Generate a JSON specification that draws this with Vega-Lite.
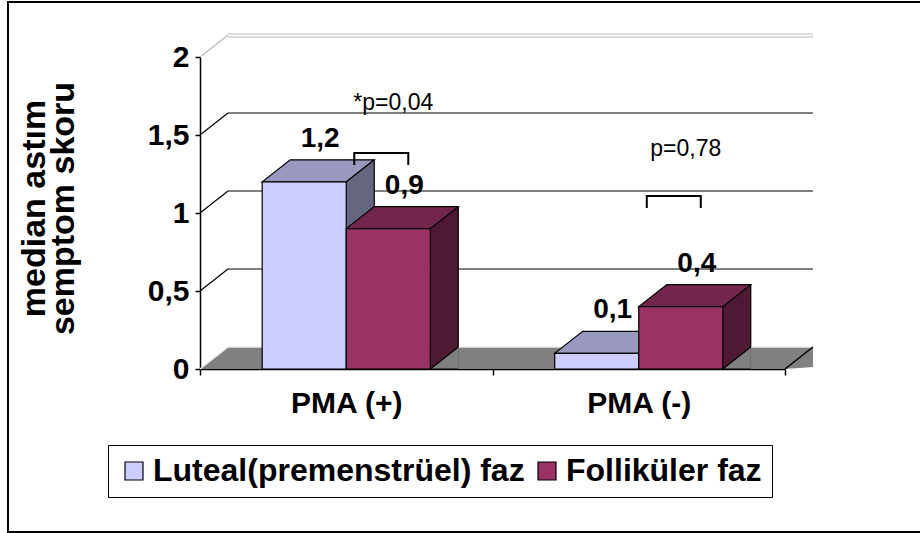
{
  "$schema": "https://vega.github.io/schema/vega-lite/v6.json",
  "width": 916,
  "height": 530,
  "autosize": {"type": "none"},
  "padding": {"left": 8, "top": 2, "right": -4, "bottom": 1},
  "background": "white",
  "config": {
    "view": {"stroke": "black", "strokeWidth": 2},
    "font": "Liberation Sans",
    "axisX": {
      "orient": "bottom", "offset": -163, "tickBand": "extent", "labelAngle": 0,
      "domainColor": "black", "domainWidth": 1.5, "tickColor": "black", "tickWidth": 1.5, "tickSize": 6,
      "labelPadding": 13, "labelFont": "Liberation Sans", "labelFontSize": 30, "labelFontWeight": "bold",
      "labelColor": "black", "grid": false, "zindex": 1
    },
    "axisY": {
      "offset": -192, "grid": false,
      "domainColor": "black", "domainWidth": 1.5, "tickColor": "black", "tickWidth": 1.5, "tickSize": 5,
      "labelPadding": 6, "labelFont": "Liberation Sans", "labelFontSize": 30, "labelFontWeight": "bold",
      "labelColor": "black", "titleFont": "Liberation Sans", "titleFontSize": 34,
      "titleFontWeight": "bold", "titleColor": "black", "titleX": -166, "titleY": 206, "titleAngle": -90,
      "titleAlign": "center", "titleBaseline": "middle", "titleLineHeight": 29, "zindex": 1
    }
  },
  "datasets": {
    "bars": [
      {"group": "PMA (+)", "faz": "Luteal(premenstrüel) faz", "value": 1.2, "label": "1,2"},
      {"group": "PMA (+)", "faz": "Folliküler faz", "value": 0.9, "label": "0,9"},
      {"group": "PMA (-)", "faz": "Luteal(premenstrüel) faz", "value": 0.1, "label": "0,1"},
      {"group": "PMA (-)", "faz": "Folliküler faz", "value": 0.4, "label": "0,4"}
    ],
    "ticks": [{"v": 0.5}, {"v": 1}, {"v": 1.5}, {"v": 2}],
    "notes": [
      {"group": "PMA (+)", "faz": "Folliküler faz", "y": 1.66, "text": "*p=0,04", "bracket": 1.385},
      {"group": "PMA (-)", "faz": "Folliküler faz", "y": 1.365, "text": "p=0,78", "bracket": 1.109}
    ]
  },
  "encoding": {
    "x": {
      "field": "group", "type": "nominal", "title": null,
      "scale": {"domain": ["PMA (+)", "PMA (-)"], "range": [192, 777], "paddingInner": 0, "paddingOuter": 0},
      "axis": {"title": null}
    },
    "y": {
      "field": "value", "type": "quantitative", "stack": null,
      "scale": {"domain": [0, 2], "range": [367, 55], "nice": false, "zero": true},
      "axis": {
        "values": [0, 0.5, 1, 1.5, 2],
        "labelExpr": "replace(format(datum.value, '~g'), '.', ',')",
        "title": ["median astım", "semptom skoru"]
      }
    }
  },
  "layer": [
    {
      "data": {"name": "ticks"},
      "transform": [{"filter": "datum.v < 2"}],
      "mark": {"type": "rule", "color": "black", "strokeWidth": 1, "xOffset": -118.25, "x2Offset": 174.25, "yOffset": -22},
      "encoding": {
        "x": {"datum": "PMA (+)", "type": "nominal", "title": null},
        "x2": {"datum": "PMA (-)"},
        "y": {"field": "v", "type": "quantitative", "title": null}
      }
    },
    {
      "data": {"name": "ticks"},
      "transform": [{"filter": "datum.v == 2"}],
      "mark": {"type": "rule", "color": "#B8B8B8", "strokeWidth": 1, "xOffset": -118.25, "x2Offset": 174.25, "yOffset": -23},
      "encoding": {
        "x": {"datum": "PMA (+)", "type": "nominal", "title": null},
        "x2": {"datum": "PMA (-)"},
        "y": {"field": "v", "type": "quantitative", "title": null}
      }
    },
    {
      "data": {"name": "ticks"},
      "transform": [{"filter": "datum.v == 2"}],
      "mark": {"type": "rule", "color": "#B8B8B8", "strokeWidth": 1, "xOffset": -118.25, "x2Offset": 174.25, "yOffset": -20},
      "encoding": {
        "x": {"datum": "PMA (+)", "type": "nominal", "title": null},
        "x2": {"datum": "PMA (-)"},
        "y": {"field": "v", "type": "quantitative", "title": null}
      }
    },
    {
      "data": {"name": "ticks"},
      "mark": {"type": "rule", "strokeWidth": 1.2, "xOffset": -146.25, "x2Offset": -118.25, "y2Offset": -22},
      "encoding": {
        "x": {"datum": "PMA (+)", "type": "nominal", "title": null},
        "x2": {"datum": "PMA (+)"},
        "y": {"field": "v", "type": "quantitative", "title": null},
        "y2": {"field": "v"},
        "color": {"condition": {"test": "datum.v == 2", "value": "#B8B8B8"}, "value": "black"}
      }
    },
    {
      "data": {"name": "bars"},
      "transform": [{"filter": "datum.group == 'PMA (+)' && datum.faz != 'Folliküler faz'"}],
      "mark": {"type": "point", "shape": "M-146.25,0L-118.25,-22L466.75,-22L466.75,-2L438.75,0Z", "size": 4, "filled": true, "fill": "#808080", "strokeWidth": 0, "opacity": 1},
      "encoding": {
        "y": {"datum": 0, "type": "quantitative", "title": null}
      }
    },
    {
      "data": {"name": "bars"},
      "transform": [{"filter": "datum.group == 'PMA (+)' && datum.faz != 'Folliküler faz'"}],
      "mark": {"type": "point", "shape": "M-146.25,0L-118.25,-22L466.75,-22", "size": 4, "filled": false, "stroke": "#EDEDED", "strokeWidth": 1.5, "opacity": 1},
      "encoding": {
        "y": {"datum": 0, "type": "quantitative", "title": null}
      }
    },
    {
      "data": {"name": "bars"},
      "transform": [{"filter": "datum.group == 'PMA (+)' && datum.faz != 'Folliküler faz'"}],
      "mark": {"type": "point", "shape": "M438.75,0L466.75,-22", "size": 4, "filled": false, "stroke": "black", "strokeWidth": 1.5, "opacity": 1},
      "encoding": {
        "y": {"datum": 0, "type": "quantitative", "title": null}
      }
    },
    {
      "data": {"name": "bars"},
      "transform": [{"filter": "datum.faz != 'Folliküler faz'"}],
      "mark": {"type": "bar", "width": 28, "xOffset": 14, "yOffset": -22, "strokeWidth": 0, "opacity": 1, "fill": "#666680"}
    },
    {
      "data": {"name": "bars"},
      "transform": [{"filter": "datum.faz == 'Folliküler faz'"}],
      "mark": {"type": "bar", "width": 28, "xOffset": 98, "yOffset": -22, "strokeWidth": 0, "opacity": 1, "fill": "#4D1933"}
    },
    {
      "data": {"name": "bars"},
      "mark": {"type": "point", "shape": "M70,0L42,0L70,-22", "size": 4, "filled": true, "fill": "#808080", "stroke": "black", "strokeWidth": 1.2, "opacity": 1},
      "encoding": {
        "xOffset": {"field": "faz", "type": "nominal", "scale": {"domain": ["Luteal(premenstrüel) faz", "Folliküler faz"], "paddingInner": 0, "paddingOuter": 0.74}},
        "y": {"datum": 0, "type": "quantitative", "title": null}
      }
    },
    {
      "data": {"name": "bars"},
      "transform": [{"filter": "datum.faz != 'Folliküler faz'"}],
      "mark": {"type": "rule", "color": "black", "strokeWidth": 1.2, "xOffset": 28, "yOffset": -22, "y2Offset": -22},
      "encoding": {
        "y2": {"datum": 0}
      }
    },
    {
      "data": {"name": "bars"},
      "transform": [{"filter": "datum.faz == 'Folliküler faz'"}],
      "mark": {"type": "rule", "color": "black", "strokeWidth": 1.2, "xOffset": 112, "yOffset": -22, "y2Offset": -22},
      "encoding": {
        "y2": {"datum": 0}
      }
    },
    {
      "data": {"name": "bars"},
      "mark": {"type": "point", "shape": "M-42,0L42,0L70,-22L-14,-22Z", "size": 4, "filled": true, "stroke": "black", "strokeWidth": 1.2, "opacity": 1},
      "encoding": {
        "xOffset": {"field": "faz", "type": "nominal"},
        "fill": {"condition": {"test": "datum.faz == 'Folliküler faz'", "value": "#73264D"}, "value": "#9999C0"}
      }
    },
    {
      "data": {"name": "bars"},
      "mark": {"type": "bar", "stroke": "black", "strokeWidth": 1.2, "opacity": 1},
      "encoding": {
        "xOffset": {"field": "faz", "type": "nominal"},
        "color": {
          "field": "faz", "type": "nominal",
          "scale": {"domain": ["Luteal(premenstrüel) faz", "Folliküler faz"], "range": ["#CCCCFF", "#993366"]},
          "legend": {
            "orient": "none", "legendX": 100, "legendY": 443, "direction": "horizontal", "title": null,
            "strokeColor": "black", "fillColor": "white", "padding": 10, "symbolType": "square", "symbolSize": 324,
            "symbolStrokeColor": "black", "symbolStrokeWidth": 1.2, "symbolOpacity": 1,
            "labelFont": "Liberation Sans", "labelFontSize": 32, "labelFontWeight": "bold", "labelColor": "black",
            "labelOffset": 3, "columnPadding": 6, "labelLimit": 0
          }
        }
      }
    },
    {
      "data": {"name": "bars"},
      "mark": {"type": "text", "dx": 16, "dy": -35, "baseline": "alphabetic", "align": "center", "font": "Liberation Sans", "fontSize": 28, "fontWeight": "bold", "color": "black"},
      "encoding": {
        "xOffset": {"field": "faz", "type": "nominal"},
        "text": {"field": "label"}
      }
    },
    {
      "data": {"name": "notes"},
      "mark": {"type": "text", "dx": 5, "baseline": "alphabetic", "align": "center", "font": "Liberation Sans", "fontSize": 23, "color": "black"},
      "encoding": {
        "xOffset": {"field": "faz", "type": "nominal"},
        "y": {"field": "y", "type": "quantitative", "title": null},
        "text": {"field": "text"}
      }
    },
    {
      "data": {"name": "notes"},
      "mark": {"type": "point", "shape": "M-34,12L-34,0L20,0L20,12", "size": 4, "filled": false, "stroke": "black", "strokeWidth": 2, "opacity": 1},
      "encoding": {
        "xOffset": {"field": "faz", "type": "nominal"},
        "y": {"field": "bracket", "type": "quantitative", "title": null}
      }
    }
  ]
}
